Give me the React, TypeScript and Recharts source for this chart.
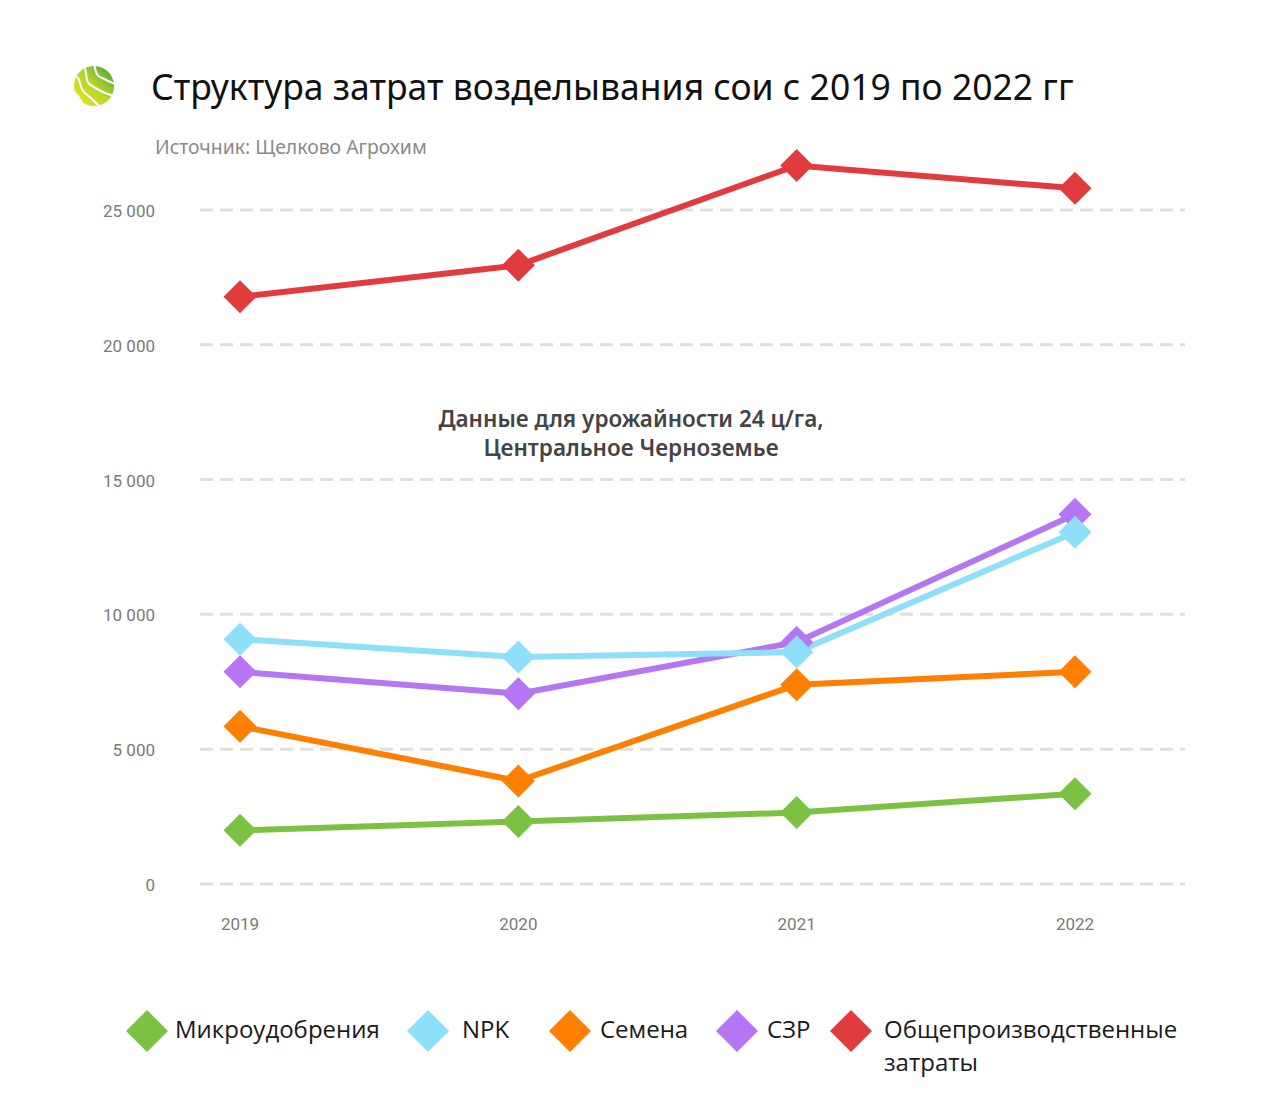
import { LineChart, Line, XAxis, YAxis, CartesianGrid } from 'recharts';

const years = ['2019', '2020', '2021', '2022'];
const micro = [1990, 2320, 2650, 3350];
const npk = [9080, 8420, 8600, 13050];
const seeds = [5850, 3820, 7390, 7870];
const szr = [7870, 7060, 8970, 13710];
const overhead = [21780, 22950, 26650, 25800];
const yTicks = [0, 5000, 10000, 15000, 20000, 25000];

// legend order
const series = [
  { key: 'micro', name: 'Микроудобрения', color: '#7cc242', values: micro },
  { key: 'npk', name: 'NPK', color: '#8ddffa', values: npk },
  { key: 'seeds', name: 'Семена', color: '#ff7f00', values: seeds },
  { key: 'szr', name: 'СЗР', color: '#b675f2', values: szr },
  { key: 'overhead', name: 'Общепроизводственные затраты', color: '#e23b3d', values: overhead },
];
// drawing order (NPK on top of СЗР)
const drawOrder = ['overhead', 'micro', 'seeds', 'szr', 'npk'];
// legend item left edges (diamond) and text gaps
const legendX = [126, 407, 549, 716, 830];
const legendGap = [7, 13, 9, 9, 12];
const noteLines = ['Данные для урожайности 24 ц/га,', 'Центральное Черноземье'];

const data = years.map((year, i) => {
  const row: Record<string, string | number> = { year };
  series.forEach((s) => (row[s.key] = s.values[i]));
  return row;
});

const fmt = (v: number) => v.toLocaleString('ru-RU').replace(/\s/g, ' ');

const Diamond = (props: any) => {
  const { cx, cy, stroke, index } = props;
  if (cx == null || cy == null) return null;
  const r = 16.5;
  return (
    <polygon
      key={index}
      points={`${cx},${cy - r} ${cx + r},${cy} ${cx},${cy + r} ${cx - r},${cy}`}
      fill={stroke}
    />
  );
};

const YTick = (props: any) => (
  <text x={155} y={props.y} dy={7} textAnchor="end" fill="#7a7a7a" fontSize={17} fontFamily="Roboto">
    {fmt(props.payload.value)}
  </text>
);

const XTick = (props: any) => (
  <text x={props.x} y={930} textAnchor="middle" fill="#7a7a7a" fontSize={17} fontFamily="Roboto">
    {props.payload.value}
  </text>
);

const Logo = () => (
  <svg width={44} height={44} viewBox="0 0 44 44" style={{ position: 'absolute', left: 72, top: 64 }}>
    <defs>
      <linearGradient id="lg" x1="0" y1="1" x2="1" y2="0">
        <stop offset="0" stopColor="#f5e11c" />
        <stop offset="0.5" stopColor="#b6d62a" />
        <stop offset="1" stopColor="#3f9e3a" />
      </linearGradient>
      <clipPath id="lc">
        <circle cx={22} cy={22} r={20} />
      </clipPath>
    </defs>
    <circle cx={22} cy={22} r={20} fill="url(#lg)" />
    <g clipPath="url(#lc)" stroke="#fff" strokeWidth={2} fill="none">
      <path d="M4 12 C10 16, 6 24, 14 30 S 24 40, 32 46" />
      <path d="M12 2 C16 10, 12 18, 20 22 S 30 30, 44 32" />
      <path d="M22 0 C24 8, 24 12, 30 14 S 38 20, 46 20" />
      <path d="M0 26 C6 30, 8 36, 12 42" />
      <path d="M30 -2 C32 4, 34 6, 40 8" />
    </g>
  </svg>
);

export default function App() {
  return (
    <div style={{ position: 'absolute', left: 0, top: 0, width: 1280, height: 1120, background: '#fff' }}>
      <Logo />
      <div
        style={{
          position: 'absolute',
          left: 151,
          top: 62,
          fontFamily: '"Noto Sans"',
          fontSize: 35.5,
          color: '#111',
          whiteSpace: 'nowrap',
        }}
      >
        Структура затрат возделывания сои с 2019 по 2022 гг
      </div>
      <div
        style={{
          position: 'absolute',
          left: 155,
          top: 133,
          fontFamily: '"Noto Sans"',
          fontSize: 19.4,
          color: '#8a8a8a',
          whiteSpace: 'nowrap',
        }}
      >
        Источник: Щелково Агрохим
      </div>
      <div style={{ position: 'absolute', left: 0, top: 0 }}>
        <LineChart width={1280} height={960} data={data} margin={{ top: 156, right: 95, left: 0, bottom: 26 }}>
          <CartesianGrid
            vertical={false}
            horizontalValues={yTicks}
            stroke="#e0e0e0"
            strokeWidth={3}
            strokeDasharray="13 7"
          />
          <XAxis
            dataKey="year"
            axisLine={false}
            tickLine={false}
            padding={{ left: 40, right: 110 }}
            tick={<XTick />}
            height={50}
          />
          <YAxis
            domain={[0, 27000]}
            ticks={yTicks}
            axisLine={false}
            tickLine={false}
            width={200}
            tick={<YTick />}
          />
          {drawOrder.map((k) => {
            const s = series.find((x) => x.key === k)!;
            return (
              <Line
                key={s.key}
                dataKey={s.key}
                name={s.name}
                stroke={s.color}
                strokeWidth={6}
                dot={<Diamond />}
                activeDot={false}
                isAnimationActive={false}
              />
            );
          })}
        </LineChart>
      </div>
      {noteLines.map((line, i) => (
        <div
          key={i}
          style={{
            position: 'absolute',
            left: 0,
            width: 1262,
            top: 406 + i * 28.5,
            height: 26,
            textAlign: 'center',
            fontFamily: '"Noto Sans"',
            fontWeight: 600,
            fontSize: 22.5,
            lineHeight: '26px',
            color: '#444',
            whiteSpace: 'nowrap',
          }}
        >
          {line}
        </div>
      ))}
      {series.map((s, i) => (
        <div
          key={s.key}
          style={{
            position: 'absolute',
            left: legendX[i],
            top: 1010,
            display: 'flex',
            alignItems: 'flex-start',
            fontFamily: '"Open Sans"',
            fontSize: 24,
            lineHeight: '33px',
            color: '#1a1a1a',
          }}
        >
          <svg width={42} height={42} style={{ flex: 'none', marginRight: legendGap[i] }}>
            <polygon points="21,0 42,21 21,42 0,21" fill={s.color} />
          </svg>
          <span style={{ width: s.key === 'overhead' ? 320 : undefined, paddingTop: 2 }}>{s.name}</span>
        </div>
      ))}
    </div>
  );
}
